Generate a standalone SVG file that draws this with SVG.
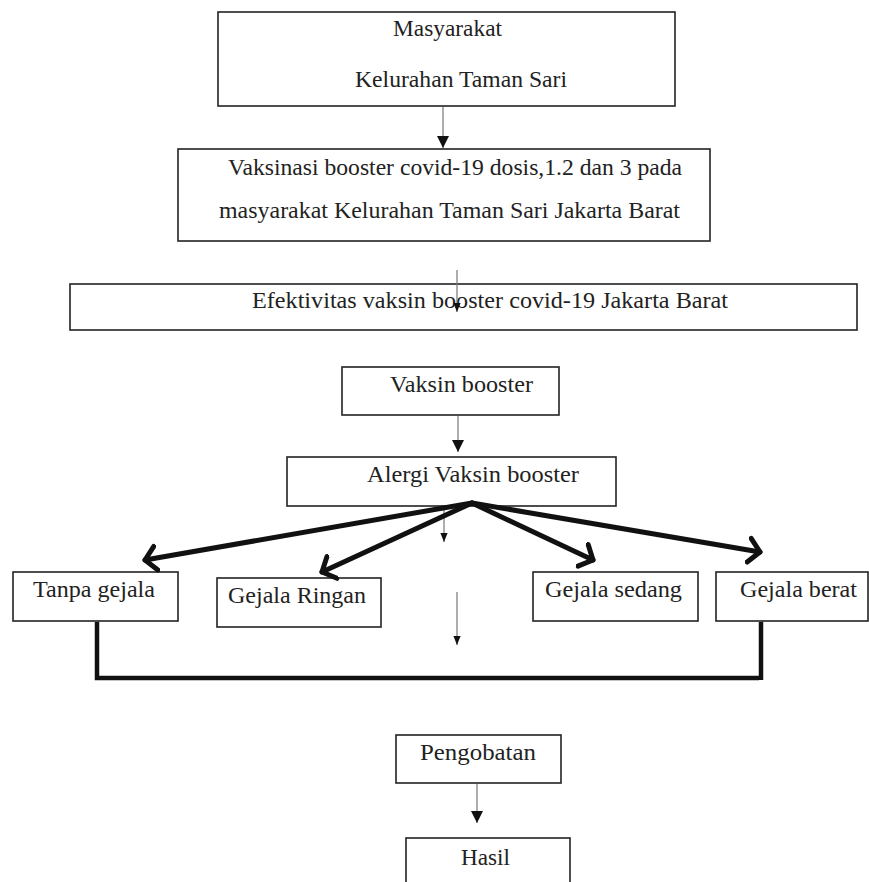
<svg xmlns="http://www.w3.org/2000/svg" width="869" height="882" viewBox="0 0 869 882">
<defs>
<style>
.box{fill:#fff;stroke:#222;stroke-width:1.6}
.t{font-family:"Liberation Serif","Times New Roman",Times,serif;font-size:23px;fill:#222}
.thin{stroke:#777;stroke-width:1.2;fill:none}
.thick{stroke:#111;stroke-width:5;fill:none;stroke-linecap:round}
.bracket{stroke:#111;stroke-width:4.5;fill:none}
</style>
<marker id="tri" markerWidth="12" markerHeight="12" refX="10" refY="5" viewBox="0 0 10 10" orient="auto" markerUnits="userSpaceOnUse">
<path d="M0,0 L10,5 L0,10 Z" fill="#111"/>
</marker>
<marker id="trismall" markerWidth="9" markerHeight="9" refX="10" refY="5" viewBox="0 0 10 10" orient="auto" markerUnits="userSpaceOnUse">
<path d="M0,1 L10,5 L0,9 Z" fill="#111"/>
</marker>
<marker id="vee" markerWidth="30" markerHeight="30" refX="13" refY="15" viewBox="0 0 30 30" orient="auto" markerUnits="userSpaceOnUse">
<path d="M2,3 L13,15 L2,27" fill="none" stroke="#111" stroke-width="5" stroke-linecap="round" stroke-linejoin="round"/>
</marker>
</defs>
<rect width="869" height="882" fill="#fff"/>

<g id="masyarakat">
<rect class="box" x="218" y="12" width="457" height="94"/>
<text class="t" x="393" y="36" textLength="109" lengthAdjust="spacingAndGlyphs">Masyarakat</text>
<text class="t" x="355" y="87" textLength="212" lengthAdjust="spacingAndGlyphs">Kelurahan Taman Sari</text>
</g>

<g id="vaksinasi">
<rect class="box" x="178" y="149" width="532" height="92"/>
<text class="t" x="228" y="175" textLength="454" lengthAdjust="spacingAndGlyphs">Vaksinasi booster covid-19 dosis,1.2 dan 3 pada</text>
<text class="t" x="219" y="218" textLength="461" lengthAdjust="spacingAndGlyphs">masyarakat Kelurahan Taman Sari Jakarta Barat</text>
</g>

<g id="efektivitas">
<rect class="box" x="70" y="284" width="787" height="46"/>
<text class="t" x="252" y="308" textLength="476" lengthAdjust="spacingAndGlyphs">Efektivitas vaksin booster covid-19 Jakarta Barat</text>
</g>

<g id="vaksin-booster">
<rect class="box" x="342" y="367" width="217" height="48"/>
<text class="t" x="390" y="392" textLength="143" lengthAdjust="spacingAndGlyphs">Vaksin booster</text>
</g>

<g id="alergi">
<rect class="box" x="287" y="457" width="329" height="49"/>
<text class="t" x="367" y="482" textLength="212" lengthAdjust="spacingAndGlyphs">Alergi Vaksin booster</text>
</g>

<g id="tanpa-gejala">
<rect class="box" x="13" y="572" width="165" height="49"/>
<text class="t" x="33" y="597" textLength="122" lengthAdjust="spacingAndGlyphs">Tanpa gejala</text>
</g>

<g id="gejala-ringan">
<rect class="box" x="217" y="578" width="164" height="49"/>
<text class="t" x="228" y="603" textLength="138" lengthAdjust="spacingAndGlyphs">Gejala Ringan</text>
</g>

<g id="gejala-sedang">
<rect class="box" x="533" y="572" width="165" height="49"/>
<text class="t" x="545" y="597" textLength="137" lengthAdjust="spacingAndGlyphs">Gejala sedang</text>
</g>

<g id="gejala-berat">
<rect class="box" x="716" y="572" width="152" height="49"/>
<text class="t" x="740" y="597" textLength="117" lengthAdjust="spacingAndGlyphs">Gejala berat</text>
</g>

<g id="pengobatan">
<rect class="box" x="396" y="735" width="165" height="48"/>
<text class="t" x="420" y="760" textLength="116" lengthAdjust="spacingAndGlyphs">Pengobatan</text>
</g>

<g id="hasil">
<rect class="box" x="406" y="838" width="164" height="60"/>
<text class="t" x="461" y="865" textLength="49" lengthAdjust="spacingAndGlyphs">Hasil</text>
</g>

<g id="connectors">
<line class="thin" x1="443" y1="107" x2="443" y2="148" marker-end="url(#tri)"/>
<line class="thin" x1="457" y1="270" x2="457" y2="312" marker-end="url(#trismall)"/>
<line class="thin" x1="458" y1="416" x2="458" y2="452" marker-end="url(#tri)"/>
<line class="thin" x1="444" y1="507" x2="444" y2="542" marker-end="url(#trismall)"/>
<line class="thin" x1="457" y1="592" x2="457" y2="645" marker-end="url(#trismall)"/>
<line class="thin" x1="477" y1="784" x2="477" y2="823" marker-end="url(#tri)"/>
<line class="thick" x1="472" y1="503" x2="145" y2="560" marker-end="url(#vee)"/>
<line class="thick" x1="472" y1="503" x2="322" y2="572" marker-end="url(#vee)"/>
<line class="thick" x1="472" y1="503" x2="593" y2="560" marker-end="url(#vee)"/>
<line class="thick" x1="472" y1="503" x2="760" y2="552" marker-end="url(#vee)"/>
<polyline class="bracket" points="97,622 97,678 759,678"/>
<line class="bracket" x1="761" y1="622" x2="761" y2="680"/>
</g>
</svg>
